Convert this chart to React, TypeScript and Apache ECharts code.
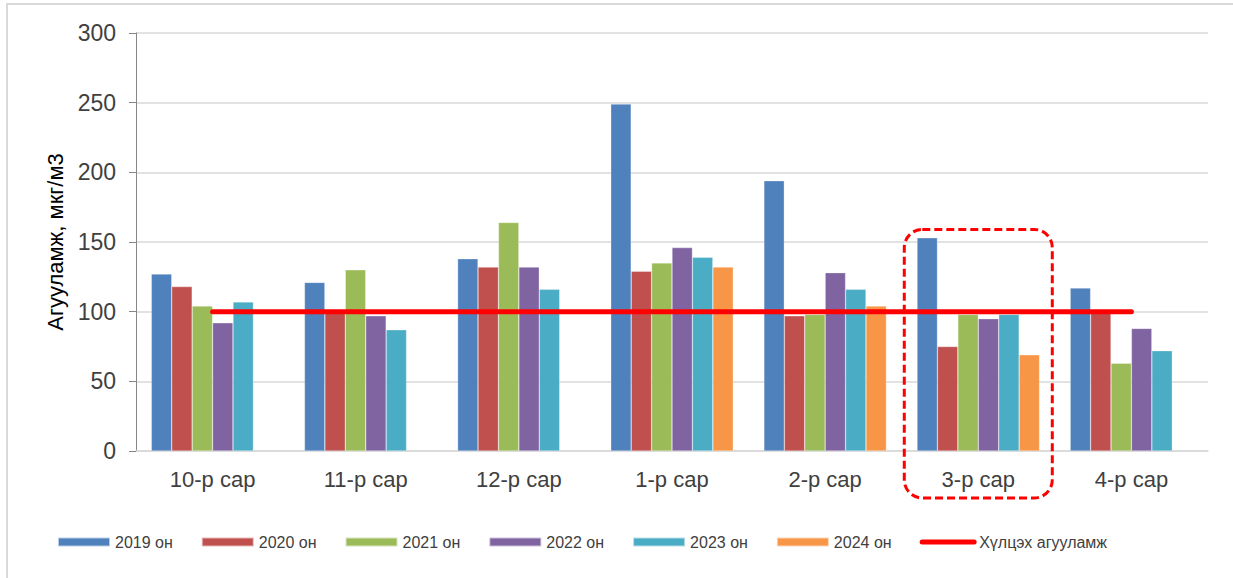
import React, { useEffect, useRef } from "react";
import * as echarts from "echarts";

const categories = ["10-р сар", "11-р сар", "12-р сар", "1-р сар", "2-р сар", "3-р сар", "4-р сар"];
const seriesNames = ["2019 он", "2020 он", "2021 он", "2022 он", "2023 он", "2024 он"];
const y2019 = [127, 121, 138, 249, 194, 153, 117];
const y2020 = [118, 100, 132, 129, 97, 75, 101];
const y2021 = [104, 130, 164, 135, 98, 98, 63];
const y2022 = [92, 97, 132, 146, 128, 95, 88];
const y2023 = [107, 87, 116, 139, 116, 98, 72];
const y2024 = [null, null, null, 132, 104, 69, null];
const limitName = "Хүлцэх агууламж";
const limitValues = [100, 100, 100, 100, 100, 100, 100];
const colors = ["#4F81BD", "#C0504D", "#9BBB59", "#8064A2", "#4BACC6", "#F79646"];
const highlightIndex = 5;

const FONT = "'Liberation Sans', Arial, sans-serif";

export default function App() {
  const ref = useRef<HTMLDivElement>(null);
  useEffect(() => {
    if (!ref.current) return;
    const chart = echarts.init(ref.current, null, { renderer: "svg" });
    const values = [y2019, y2020, y2021, y2022, y2023, y2024];
    const barSeries = values.map((d, i) => ({
      name: seriesNames[i],
      type: "bar",
      data: d,
      barGap: "0%",
      barCategoryGap: "20%",
      itemStyle: { color: colors[i], borderColor: "rgba(255,255,255,0.6)", borderWidth: 0.5 },
      z: 2,
    }));
    const border = {
      type: "rect",
      shape: { x: 7, y: 4, width: 1240, height: 590 },
      style: { fill: "none", stroke: "#D9D9D9", lineWidth: 2 },
      silent: true,
      z: -1,
    };
    const option: any = {
      animation: false,
      backgroundColor: "#ffffff",
      textStyle: { fontFamily: FONT },
      grid: { left: 136, right: 25, top: 33, bottom: 127, containLabel: false },
      legend: {
        left: 52,
        top: 529,
        itemWidth: 52,
        itemHeight: 9,
        itemGap: 28,
        textStyle: { fontSize: 16, color: "#404040", fontFamily: FONT },
        data: [
          ...seriesNames.map((n) => ({ name: n, icon: "rect" })),
          {
            name: limitName,
            itemStyle: { opacity: 0 },
            lineStyle: { color: "#FF0000", width: 5, cap: "round" },
          },
        ],
      },
      xAxis: {
        type: "category",
        data: categories,
        axisLine: { show: true, lineStyle: { color: "#D9D9D9", width: 1.5 } },
        axisTick: { show: false },
        axisLabel: { fontSize: 22, color: "#404040", margin: 17, fontFamily: FONT },
      },
      yAxis: {
        type: "value",
        min: 0,
        max: 300,
        interval: 50,
        name: "Агууламж, мкг/м3",
        nameLocation: "middle",
        nameRotate: 90,
        nameGap: 69,
        nameTextStyle: { fontSize: 22, color: "#000000", fontFamily: FONT },
        axisLine: { show: true, lineStyle: { color: "#868686", width: 1 } },
        axisTick: { show: true, length: 7, lineStyle: { color: "#868686" } },
        axisLabel: { fontSize: 23, color: "#404040", margin: 20, fontFamily: FONT },
        splitLine: { show: true, lineStyle: { color: "#D9D9D9", width: 1.5 } },
      },
      series: [
        ...barSeries,
        {
          name: limitName,
          type: "line",
          data: limitValues,
          symbol: "none",
          lineStyle: { color: "#FF0000", width: 5, cap: "round" },
          itemStyle: { color: "#FF0000" },
          z: 5,
        },
      ],
      graphic: [border],
    };
    chart.setOption(option);
    const cx = chart.convertToPixel({ xAxisIndex: 0 }, highlightIndex) as number;
    const yTop = chart.convertToPixel({ yAxisIndex: 0 }, 159) as number;
    const yBase = chart.convertToPixel({ yAxisIndex: 0 }, 0) as number;
    const halfW = 74;
    chart.setOption({
      graphic: [
        border,
        {
          type: "rect",
          shape: { x: cx - halfW, y: yTop, width: halfW * 2, height: yBase + 47 - yTop, r: 18 },
          style: { fill: "none", stroke: "#FF0000", lineWidth: 3, lineDash: [8, 4] },
          silent: true,
          z: 10,
        },
      ],
    });
    return () => chart.dispose();
  }, []);
  return (
    <div
      ref={ref}
      style={{ position: "fixed", left: 0, top: 0, width: 1233, height: 578, background: "#fff" }}
    />
  );
}
